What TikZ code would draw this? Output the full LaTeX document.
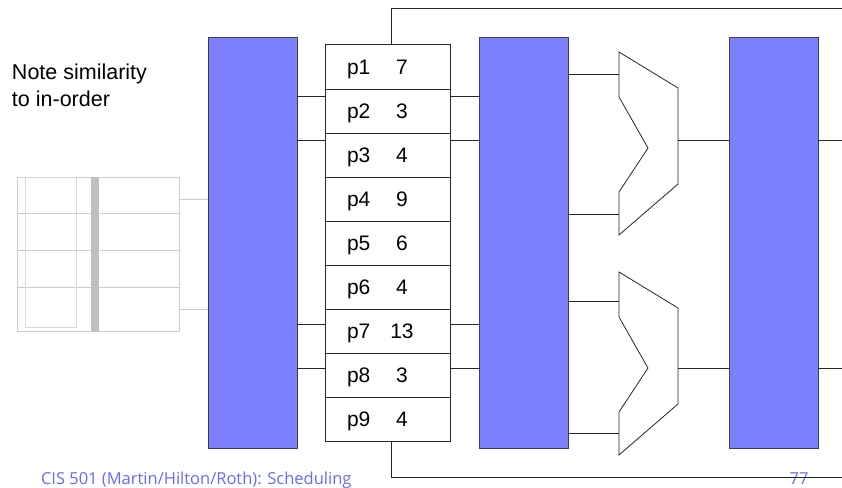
\documentclass[tikz,border=0pt]{standalone}
\usepackage{fontspec}
\setmainfont{Liberation Sans}
\newfontfamily\footfont{Open Sans}
\usetikzlibrary{positioning}
\usepackage{xcolor}
\definecolor{stageblue}{HTML}{7C7FFF}
\definecolor{footblue}{HTML}{6A6AF0}
\definecolor{fadeline}{HTML}{CCCCCC}
\newcommand{\regtext}[2]{\makebox[81pt][l]{\makebox[44pt][l]{#1}\makebox[22pt][c]{#2}}}

\begin{document}
\begin{tikzpicture}[x=1pt, y=-1pt, node distance=0pt, line width=0.8pt,
    every node/.style={outer sep=0pt, inner sep=0pt, align=center},
    latch/.style={draw=black!75, fill=stageblue, minimum width=89pt, minimum height=411pt},
    regrow/.style={draw=black!85, line width=1pt, fill=white, minimum width=125pt, minimum height=44pt, text depth=0pt, font=\fontsize{21}{24}\selectfont},
    fadebox/.style={draw=fadeline, line width=1pt, minimum width=162pt},
    footer/.style={text=footblue, font=\footfont\fontsize{16.5}{20}\selectfont},
    wire/.style={draw=black!85},
    fadewire/.style={draw=black!20, line width=1pt}]
    \useasboundingbox (0,0) rectangle (842,487);

    \node [latch] (latchA) at (252.5,242.5) {};
    \node [latch] (latchB) at (523.5,242.5) {};
    \node [latch] (latchC) at (773.5,242.5) {};

    % register file
    \node [regrow] (p1) at (387.5,67) {\regtext{p1}{7}};
    \node [regrow] (p2) [below=of p1] {\regtext{p2}{3}};
    \node [regrow] (p3) [below=of p2] {\regtext{p3}{4}};
    \node [regrow] (p4) [below=of p3] {\regtext{p4}{9}};
    \node [regrow] (p5) [below=of p4] {\regtext{p5}{6}};
    \node [regrow] (p6) [below=of p5] {\regtext{p6}{4}};
    \node [regrow] (p7) [below=of p6] {\regtext{p7}{13}};
    \node [regrow] (p8) [below=of p7] {\regtext{p8}{3}};
    \node [regrow] (p9) [below=of p8] {\regtext{p9}{4}};

    % faded table
    \node [fadebox, minimum height=36.5pt] (rowA) at (98,195.25) {};
    \node [fadebox, minimum height=36.5pt] (rowB) [below=of rowA] {};
    \node [fadebox, minimum height=37pt] (rowC) [below=of rowB] {};
    \node [fadebox, minimum height=44pt] (rowD) [below=of rowC] {};
    \node [draw=black!15, line width=1pt, minimum width=51pt, minimum height=150pt] (inner) at (50.5,252) {};
    \node [fill=black!25, minimum width=8pt, minimum height=154pt] (bar) at (95,254) {};

    \node [anchor=base west, align=left, font=\fontsize{21.5}{27}\selectfont] (note) at (12,106) {Note similarity\\to in-order};
    \node [anchor=base west, footer] (foot) at (41,484) {CIS 501 (Martin/Hilton/Roth): Scheduling};
    \node [anchor=base, footer] (page) at (799,484) {77};

    % muxes
    \coordinate (muxAin1) at (619,74);
    \coordinate (muxAin2) at (619,214);
    \coordinate (muxAout) at (678,140);
    \coordinate (muxBin1) at (619,301);
    \coordinate (muxBin2) at (619,433);
    \coordinate (muxBout) at (678,368);
    \draw [wire, fill=white] (619,52) -- (678,88) -- (678,184) -- (619,235) -- (619,192) -- (648,148) -- (619,97) -- cycle;
    \draw [wire, fill=white] (619,272) -- (678,308) -- (678,404) -- (619,455) -- (619,412) -- (648,368) -- (619,317) -- cycle;

    \coordinate (topend) at (842,8);
    \coordinate (botend) at (842,477);
    \coordinate (outA) at (842,140);
    \coordinate (outB) at (842,368);

    \draw [wire] (p1.north -| 391,0) -- (391,8) -- (topend);
    \draw [wire] (p9.south -| 391,0) -- (391,477) -- (botend);

    \foreach \y in {96,140,324,368} {
        \draw [wire] (latchA.east |- 0,\y) -- (p1.west |- 0,\y);
        \draw [wire] (p1.east |- 0,\y) -- (latchB.west |- 0,\y);
    }
    \draw [wire] (latchB.east |- muxAin1) -- (muxAin1);
    \draw [wire] (latchB.east |- muxAin2) -- (muxAin2);
    \draw [wire] (latchB.east |- muxBin1) -- (muxBin1);
    \draw [wire] (latchB.east |- muxBin2) -- (muxBin2);
    \draw [wire] (muxAout) -- (latchC.west |- muxAout);
    \draw [wire] (muxBout) -- (latchC.west |- muxBout);
    \draw [wire] (latchC.east |- outA) -- (outA);
    \draw [wire] (latchC.east |- outB) -- (outB);

    \draw [fadewire] (rowA.east |- 0,199) -- (latchA.west |- 0,199);
    \draw [fadewire] (rowD.east |- 0,309) -- (latchA.west |- 0,309);
\end{tikzpicture}
\end{document}
